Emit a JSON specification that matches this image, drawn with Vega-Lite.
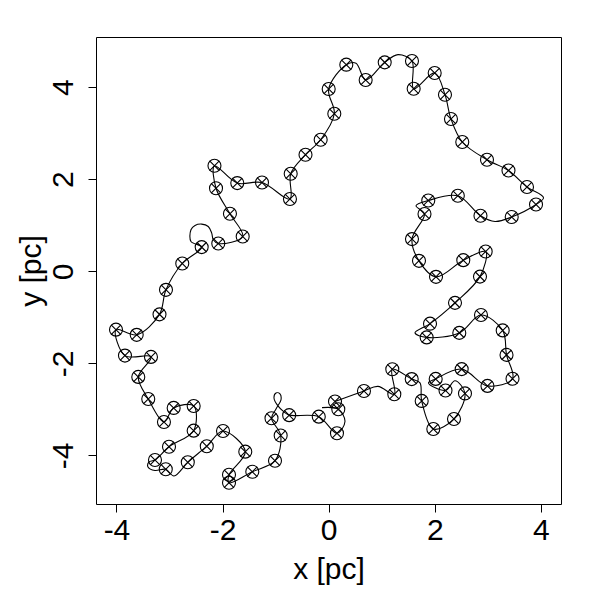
{
  "$schema": "https://vega.github.io/schema/vega-lite/v6.json",
  "width": 465,
  "height": 467,
  "autosize": {"type": "none"},
  "padding": {"left": 96, "top": 37, "right": 39, "bottom": 96},
  "background": "white",
  "config": {
    "view": {"stroke": "black", "strokeWidth": 1},
    "font": "Liberation Sans"
  },
  "data": {
    "values": [
      {"i": 1, "x": 0.119, "y": -2.826, "m": 1},
      {"i": 2, "x": 0.665, "y": -2.598, "m": 1},
      {"i": 3, "x": 0.929, "y": -2.5, "m": 0},
      {"i": 4, "x": 1.237, "y": -2.67, "m": 1},
      {"i": 5, "x": 1.199, "y": -2.126, "m": 1},
      {"i": 6, "x": 1.565, "y": -2.341, "m": 1},
      {"i": 7, "x": 1.721, "y": -2.424, "m": 0},
      {"i": 8, "x": 1.753, "y": -2.815, "m": 1},
      {"i": 9, "x": 1.972, "y": -3.424, "m": 1},
      {"i": 10, "x": 2.362, "y": -3.207, "m": 1},
      {"i": 11, "x": 2.569, "y": -2.652, "m": 1},
      {"i": 12, "x": 2.381, "y": -2.378, "m": 0},
      {"i": 13, "x": 2.202, "y": -2.587, "m": 1},
      {"i": 14, "x": 1.881, "y": -2.424, "m": 0},
      {"i": 15, "x": 2.017, "y": -2.337, "m": 1},
      {"i": 16, "x": 2.507, "y": -2.124, "m": 1},
      {"i": 17, "x": 2.993, "y": -2.489, "m": 1},
      {"i": 18, "x": 3.465, "y": -2.333, "m": 1},
      {"i": 19, "x": 3.352, "y": -1.815, "m": 1},
      {"i": 20, "x": 3.28, "y": -1.283, "m": 1},
      {"i": 21, "x": 2.871, "y": -0.95, "m": 1},
      {"i": 22, "x": 2.462, "y": -1.337, "m": 1},
      {"i": 23, "x": 1.847, "y": -1.435, "m": 1},
      {"i": 24, "x": 1.627, "y": -1.337, "m": 0},
      {"i": 25, "x": 1.91, "y": -1.137, "m": 1},
      {"i": 26, "x": 2.381, "y": -0.685, "m": 1},
      {"i": 27, "x": 2.852, "y": -0.115, "m": 1},
      {"i": 28, "x": 2.959, "y": 0.43, "m": 1},
      {"i": 29, "x": 2.537, "y": 0.243, "m": 1},
      {"i": 30, "x": 2.023, "y": -0.12, "m": 1},
      {"i": 31, "x": 1.702, "y": 0.228, "m": 1},
      {"i": 32, "x": 1.57, "y": 0.7, "m": 1},
      {"i": 33, "x": 1.806, "y": 1.246, "m": 1},
      {"i": 34, "x": 1.646, "y": 1.424, "m": 0},
      {"i": 35, "x": 1.877, "y": 1.537, "m": 1},
      {"i": 36, "x": 2.434, "y": 1.641, "m": 1},
      {"i": 37, "x": 2.861, "y": 1.207, "m": 1},
      {"i": 38, "x": 3.135, "y": 1.083, "m": 0},
      {"i": 39, "x": 3.45, "y": 1.18, "m": 1},
      {"i": 40, "x": 3.908, "y": 1.45, "m": 1},
      {"i": 41, "x": 4.049, "y": 1.598, "m": 0},
      {"i": 42, "x": 3.738, "y": 1.833, "m": 1},
      {"i": 43, "x": 3.389, "y": 2.189, "m": 1},
      {"i": 44, "x": 2.984, "y": 2.424, "m": 1},
      {"i": 45, "x": 2.518, "y": 2.809, "m": 1},
      {"i": 46, "x": 2.305, "y": 3.309, "m": 1},
      {"i": 47, "x": 2.192, "y": 3.837, "m": 1},
      {"i": 48, "x": 1.998, "y": 4.309, "m": 1},
      {"i": 49, "x": 1.602, "y": 3.967, "m": 1},
      {"i": 50, "x": 1.57, "y": 4.57, "m": 1},
      {"i": 51, "x": 1.306, "y": 4.707, "m": 0},
      {"i": 52, "x": 1.056, "y": 4.539, "m": 1},
      {"i": 53, "x": 0.697, "y": 4.157, "m": 1},
      {"i": 54, "x": 0.515, "y": 4.522, "m": 0},
      {"i": 55, "x": 0.332, "y": 4.489, "m": 1},
      {"i": 56, "x": 0.0, "y": 3.961, "m": 1},
      {"i": 57, "x": 0.106, "y": 3.424, "m": 1},
      {"i": 58, "x": -0.151, "y": 2.859, "m": 1},
      {"i": 59, "x": -0.437, "y": 2.533, "m": 1},
      {"i": 60, "x": -0.716, "y": 2.12, "m": 1},
      {"i": 61, "x": -0.73, "y": 1.57, "m": 1},
      {"i": 62, "x": -1.257, "y": 1.928, "m": 1},
      {"i": 63, "x": -1.723, "y": 1.917, "m": 1},
      {"i": 64, "x": -2.153, "y": 2.293, "m": 1},
      {"i": 65, "x": -2.124, "y": 1.804, "m": 1},
      {"i": 66, "x": -1.861, "y": 1.25, "m": 1},
      {"i": 67, "x": -1.621, "y": 0.757, "m": 1},
      {"i": 68, "x": -2.081, "y": 0.604, "m": 1},
      {"i": 69, "x": -2.175, "y": 0.685, "m": 0},
      {"i": 70, "x": -2.205, "y": 0.83, "m": 0},
      {"i": 71, "x": -2.27, "y": 0.974, "m": 0},
      {"i": 72, "x": -2.394, "y": 1.026, "m": 0},
      {"i": 73, "x": -2.52, "y": 0.996, "m": 0},
      {"i": 74, "x": -2.596, "y": 0.902, "m": 0},
      {"i": 75, "x": -2.596, "y": 0.648, "m": 0},
      {"i": 76, "x": -2.394, "y": 0.526, "m": 1},
      {"i": 77, "x": -2.76, "y": 0.17, "m": 1},
      {"i": 78, "x": -3.067, "y": -0.402, "m": 1},
      {"i": 79, "x": -3.189, "y": -0.935, "m": 1},
      {"i": 80, "x": -3.619, "y": -1.38, "m": 1},
      {"i": 81, "x": -4.009, "y": -1.267, "m": 1},
      {"i": 82, "x": -3.84, "y": -1.83, "m": 1},
      {"i": 83, "x": -3.35, "y": -1.859, "m": 1},
      {"i": 84, "x": -3.589, "y": -2.293, "m": 1},
      {"i": 85, "x": -3.401, "y": -2.772, "m": 1},
      {"i": 86, "x": -3.105, "y": -3.272, "m": 1},
      {"i": 87, "x": -2.922, "y": -2.967, "m": 1},
      {"i": 88, "x": -2.545, "y": -2.924, "m": 1},
      {"i": 89, "x": -2.545, "y": -3.461, "m": 1},
      {"i": 90, "x": -3.01, "y": -3.811, "m": 1},
      {"i": 91, "x": -3.274, "y": -4.098, "m": 1},
      {"i": 92, "x": -3.387, "y": -4.141, "m": 0},
      {"i": 93, "x": -3.406, "y": -4.25, "m": 0},
      {"i": 94, "x": -3.274, "y": -4.326, "m": 0},
      {"i": 95, "x": -3.071, "y": -4.3, "m": 1},
      {"i": 96, "x": -2.916, "y": -4.446, "m": 0},
      {"i": 97, "x": -2.656, "y": -4.148, "m": 1},
      {"i": 98, "x": -2.298, "y": -3.798, "m": 1},
      {"i": 99, "x": -1.992, "y": -3.467, "m": 1},
      {"i": 100, "x": -1.572, "y": -3.917, "m": 1},
      {"i": 101, "x": -1.879, "y": -4.42, "m": 1},
      {"i": 102, "x": -1.879, "y": -4.593, "m": 1},
      {"i": 103, "x": -1.44, "y": -4.354, "m": 1},
      {"i": 104, "x": -1.012, "y": -4.113, "m": 1},
      {"i": 105, "x": -0.905, "y": -3.565, "m": 1},
      {"i": 106, "x": -1.078, "y": -3.191, "m": 1},
      {"i": 107, "x": -0.993, "y": -2.989, "m": 0},
      {"i": 108, "x": -0.899, "y": -2.793, "m": 0},
      {"i": 109, "x": -0.918, "y": -2.663, "m": 0},
      {"i": 110, "x": -0.993, "y": -2.641, "m": 0},
      {"i": 111, "x": -1.031, "y": -2.75, "m": 0},
      {"i": 112, "x": -0.956, "y": -2.924, "m": 0},
      {"i": 113, "x": -0.843, "y": -3.054, "m": 0},
      {"i": 114, "x": -0.745, "y": -3.124, "m": 1},
      {"i": 115, "x": -0.187, "y": -3.157, "m": 1},
      {"i": 116, "x": 0.156, "y": -3.517, "m": 1},
      {"i": 117, "x": 0.307, "y": -3.261, "m": 0},
      {"i": 118, "x": 0.181, "y": -2.996, "m": 1},
      {"i": 119, "x": -0.126, "y": -2.961, "m": 0}
    ]
  },
  "encoding": {
    "x": {
      "field": "x",
      "type": "quantitative",
      "scale": {"domain": [-4.386, 4.379], "nice": false, "zero": false},
      "axis": {
        "values": [-4, -2, 0, 2, 4],
        "labelExpr": "'' + datum.value",
        "domain": false,
        "grid": false,
        "ticks": true,
        "tickSize": 8,
        "tickColor": "black",
        "tickWidth": 1,
        "labelFontSize": 30,
        "labelFont": "Liberation Sans",
        "labelColor": "black",
        "labelBaseline": "alphabetic",
        "labelPadding": 27,
        "labelFlush": false,
        "labelOverlap": false,
        "title": "x [pc]",
        "titleFont": "Liberation Sans",
        "titleFontSize": 30,
        "titleFontWeight": "normal",
        "titleColor": "black",
        "titleBaseline": "alphabetic",
        "titleY": 74
      }
    },
    "y": {
      "field": "y",
      "type": "quantitative",
      "scale": {"domain": [-5.054, 5.09], "nice": false, "zero": false},
      "axis": {
        "values": [-4, -2, 0, 2, 4],
        "labelExpr": "'' + datum.value",
        "domain": false,
        "grid": false,
        "ticks": true,
        "tickSize": 8,
        "tickColor": "black",
        "tickWidth": 1,
        "labelFontSize": 30,
        "labelFont": "Liberation Sans",
        "labelColor": "black",
        "labelAngle": 270,
        "labelAlign": "center",
        "labelBaseline": "alphabetic",
        "labelPadding": 16,
        "labelFlush": false,
        "labelOverlap": false,
        "title": "y [pc]",
        "titleFont": "Liberation Sans",
        "titleFontSize": 30,
        "titleFontWeight": "normal",
        "titleColor": "black",
        "titleAngle": 270,
        "titleAlign": "center",
        "titleBaseline": "alphabetic",
        "titleX": -56,
        "titleY": 233.5
      }
    }
  },
  "layer": [
    {
      "mark": {"type": "line", "interpolate": "catmull-rom", "stroke": "black", "strokeWidth": 1.1},
      "encoding": {"order": {"field": "i", "type": "quantitative"}}
    },
    {
      "transform": [{"filter": "datum.m == 1"}],
      "mark": {"type": "point", "shape": "circle", "filled": false, "stroke": "black", "strokeWidth": 1.1, "size": 169, "opacity": 1}
    },
    {
      "transform": [{"filter": "datum.m == 1"}],
      "mark": {"type": "point", "shape": "M -0.75 -0.75 L 0.75 0.75 M -0.75 0.75 L 0.75 -0.75", "filled": false, "stroke": "black", "strokeWidth": 1.1, "size": 169, "opacity": 1}
    }
  ]
}
